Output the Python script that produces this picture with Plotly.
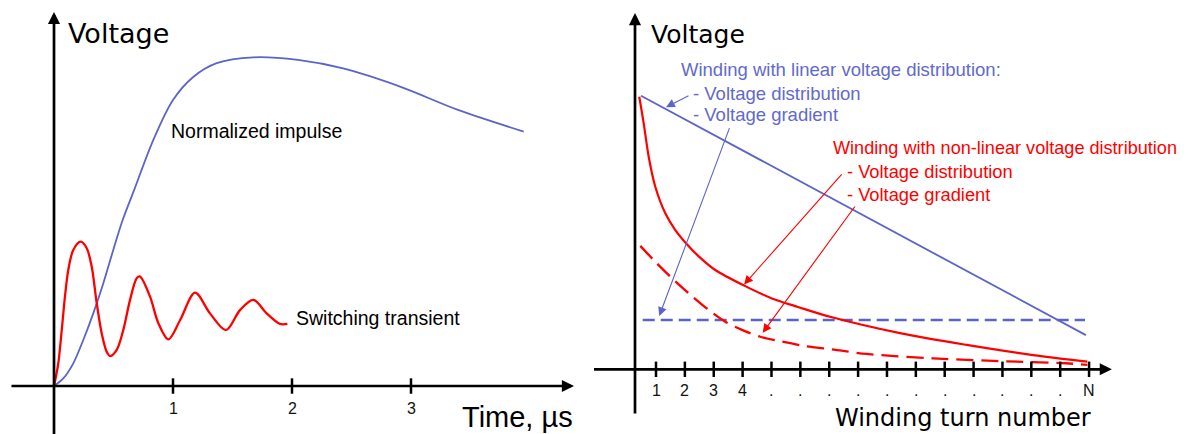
import plotly.graph_objects as go

# The page body adds an 8 px margin, so the figure is 8 px smaller than the window.
OFF = 8
W, H = 1188 - OFF, 434 - OFF

# ---------------- data: left panel (time in microseconds, voltage normalized) ----------------
impulse_t = [0, 0.078, 0.162, 0.246, 0.33, 0.414, 0.498, 0.577, 0.669, 0.834, 1.0, 1.17, 1.367,
             1.675, 2.05, 2.43, 2.914, 3.395, 3.947]
impulse_v = [0, 0.023, 0.069, 0.14, 0.221, 0.312, 0.414, 0.505, 0.592, 0.748, 0.87, 0.94, 0.982,
             1.0, 0.992, 0.966, 0.91, 0.84, 0.774]

transient_t = [0, 0.036, 0.065, 0.092, 0.12, 0.162, 0.224, 0.275, 0.317, 0.359, 0.401, 0.443, 0.471,
               0.527, 0.582, 0.639, 0.695, 0.723, 0.807, 0.877, 0.961, 1.059, 1.185, 1.311, 1.445,
               1.563, 1.675, 1.787, 1.899, 1.961]
transient_v = [0, 0.069, 0.170, 0.272, 0.353, 0.414, 0.439, 0.419, 0.363, 0.252, 0.160, 0.104, 0.091,
               0.110, 0.170, 0.262, 0.328, 0.333, 0.272, 0.191, 0.142, 0.20, 0.284, 0.221, 0.170,
               0.231, 0.262, 0.221, 0.189, 0.189]

time_ticks = [1, 2, 3]
time_tick_labels = ["1", "2", "3"]

# ---------------- data: right panel (winding turn index, voltage normalized) ----------------
turn_ticks = list(range(1, 17))
turn_labels = ["1", "2", "3", "4"] + ["."] * 11 + ["N"]

linear_x = [0.48, 15.89]
linear_v = [1.0, 0.125]
linear_grad_x = [0.54, 15.86]
linear_grad_v = [0.18, 0.18]

nonlin_x = [0.42, 0.574, 0.747, 0.976, 1.322, 1.669, 2.039, 2.489, 3.054, 4.093, 5.018, 5.943, 7.096,
            9.45, 11.76, 14.06, 15.94]
nonlin_v = [0.996, 0.899, 0.777, 0.667, 0.570, 0.509, 0.461, 0.412, 0.363, 0.304, 0.259, 0.227, 0.19,
            0.132, 0.089, 0.052, 0.028]

nonlin_grad_x = [0.456, 0.976, 1.554, 2.133, 2.825, 3.40, 3.978, 4.613, 5.364, 6.171, 7.096, 8.3,
                 10.6, 12.9, 15.2, 15.94]
nonlin_grad_v = [0.451, 0.393, 0.333, 0.278, 0.217, 0.174, 0.144, 0.119, 0.101, 0.085, 0.073, 0.056,
                 0.04, 0.03, 0.022, 0.016]

BLUE = "#5B64C8"
BLUE_TXT = "#5F6ACB"
RED = "#FF0000"
BIG = "DejaVu Sans"
SMALL = "Liberation Sans, Arial, sans-serif"

fig = go.Figure()

# left panel curves
fig.add_trace(go.Scatter(x=impulse_t, y=impulse_v, mode="lines", xaxis="x", yaxis="y",
                         line=dict(color=BLUE, width=1.8, shape="spline", smoothing=0.9)))
fig.add_trace(go.Scatter(x=transient_t, y=transient_v, mode="lines", xaxis="x", yaxis="y",
                         line=dict(color=RED, width=2.3, shape="spline", smoothing=0.9)))
# left ticks
fig.add_trace(go.Scatter(x=time_ticks, y=[0] * len(time_ticks), mode="markers", xaxis="x", yaxis="y",
                         marker=dict(symbol="line-ns", size=11, line=dict(width=2.5, color="black"))))

# right panel curves
fig.add_trace(go.Scatter(x=linear_x, y=linear_v, mode="lines", xaxis="x2", yaxis="y2",
                         line=dict(color=BLUE, width=1.8)))
fig.add_trace(go.Scatter(x=linear_grad_x, y=linear_grad_v, mode="lines", xaxis="x2", yaxis="y2",
                         line=dict(color=BLUE, width=2.5, dash="12px,6px")))
fig.add_trace(go.Scatter(x=nonlin_x, y=nonlin_v, mode="lines", xaxis="x2", yaxis="y2",
                         line=dict(color=RED, width=2.2, shape="spline", smoothing=0.9)))
fig.add_trace(go.Scatter(x=nonlin_grad_x, y=nonlin_grad_v, mode="lines", xaxis="x2", yaxis="y2",
                         line=dict(color=RED, width=2.3, shape="spline", smoothing=0.9, dash="17px,8px")))
fig.add_trace(go.Scatter(x=turn_ticks, y=[0] * len(turn_ticks), mode="markers", xaxis="x2", yaxis="y2",
                         marker=dict(symbol="line-ns", size=11, line=dict(width=2.5, color="black"))))

annotations = []


def axis_arrow(xr, yr, x, y, ax, ay):
    return dict(x=x, y=y, ax=ax, ay=ay, xref=xr, yref=yr, axref=xr, ayref=yr, text="",
                showarrow=True, arrowhead=2, arrowsize=0.9, arrowwidth=2.7, arrowcolor="black", standoff=0)


# axes with arrowheads
annotations.append(axis_arrow("x", "y", 4.37, 0, -0.37, 0))
annotations.append(axis_arrow("x", "y", 0, 1.138, 0, -0.16))
annotations.append(axis_arrow("x2", "y2", 16.79, 0, -1.2, 0))
annotations.append(axis_arrow("x2", "y2", 0.2726, 1.302, 0.2726, -0.167))

# tick labels
for t, lab in zip(time_ticks, time_tick_labels):
    annotations.append(dict(x=t, y=0, xref="x", yref="y", text=lab, showarrow=False, yshift=-22,
                            font=dict(family=SMALL, size=16, color="#111")))
for t, lab in zip(turn_ticks, turn_labels):
    annotations.append(dict(x=t, y=0, xref="x2", yref="y2", text=lab, showarrow=False, yshift=-21,
                            font=dict(family=SMALL, size=16, color="#111")))


def px_text(text, px, py, size, family, color="black", anchor="left"):
    return dict(x=(px - OFF) / W, y=1 - (py - OFF) / H, xref="paper", yref="paper", text=text,
                showarrow=False, xanchor=anchor, yanchor="middle",
                font=dict(family=family, size=size, color=color))


annotations += [
    px_text("Voltage", 66, 34, 27, BIG),
    px_text("Time, µs", 575, 417, 29, SMALL, anchor="right"),
    px_text("Normalized impulse", 169, 131, 19.5, SMALL),
    px_text("Switching transient", 294, 317.5, 19.5, SMALL),
    px_text("Voltage", 649, 34.5, 25, BIG),
    px_text("Winding turn number", 1093, 418, 24, BIG, anchor="right"),
    px_text("Winding with linear voltage distribution:", 679, 70, 18.5, SMALL, BLUE_TXT),
    px_text("- Voltage distribution", 691, 93.3, 18.5, SMALL, BLUE_TXT),
    px_text("- Voltage gradient", 691, 115, 18.5, SMALL, BLUE_TXT),
    px_text("Winding with non-linear voltage distribution", 831, 148.3, 18.1, SMALL, RED),
    px_text("- Voltage distribution", 844.5, 171.7, 18.3, SMALL, RED),
    px_text("- Voltage gradient", 844.5, 194, 18.3, SMALL, RED),
]


def pointer(x, y, ax, ay, color):
    return dict(x=x, y=y, ax=ax, ay=ay, xref="x2", yref="y2", axref="x2", ayref="y2", text="",
                showarrow=True, arrowhead=2, arrowsize=1.6, arrowwidth=1.1, arrowcolor=color, standoff=0)


annotations += [
    pointer(1.346, 0.958, 2.178, 1.0026, BLUE),
    pointer(1.114, 0.195, 3.563, 0.887, BLUE),
    pointer(4.05, 0.31, 7.477, 0.7175, RED),
    pointer(4.696, 0.1338, 7.927, 0.6005, RED),
]

# figure-pixel mapping: left x = 46 + 119 t, left y = 378 - 328.7 v
# right x = 648 + 28.87 (i - 1), right y = 361.3 - 273.6 v
split = (594 - OFF) / W
fig.update_layout(
    width=W, height=H,
    margin=dict(l=0, r=0, t=0, b=0),
    paper_bgcolor="white", plot_bgcolor="white",
    showlegend=False,
    xaxis=dict(domain=[0, split], range=[-0.3866, 4.5378], visible=False, fixedrange=True),
    yaxis=dict(domain=[0, 1], range=[-0.146, 1.15], visible=False, anchor="x", fixedrange=True),
    xaxis2=dict(domain=[split, 1], range=[-1.1476, 19.427], visible=False, anchor="y2", fixedrange=True),
    yaxis2=dict(domain=[0, 1], range=[-0.2365, 1.3205], visible=False, anchor="x2", fixedrange=True),
    annotations=annotations,
)

fig.write_html("out.html")
